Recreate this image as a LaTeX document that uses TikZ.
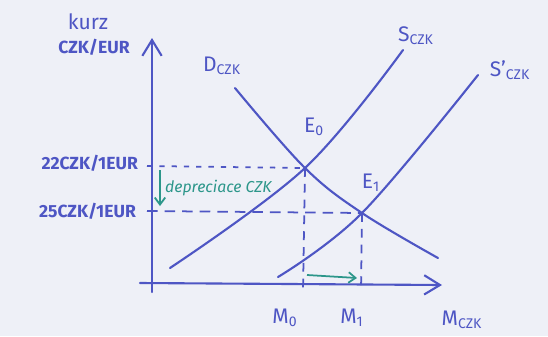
\documentclass[tikz,border=0pt]{standalone}
\usepackage{fontspec}
\setmainfont{Fira Sans}
\usetikzlibrary{arrows.meta}
\definecolor{inkblue}{RGB}{78,86,196}
\definecolor{inkteal}{RGB}{44,150,138}
\definecolor{paper}{RGB}{238,240,247}
\begin{document}
\begin{tikzpicture}[x=0.02cm, y=-0.02cm,
    ink/.style={draw=inkblue, line width=1.2pt, line cap=round},
    shift arrow/.style={draw=inkteal, line width=1pt, -{Straight Barb[length=4pt,width=6pt]}},
    guide/.style={draw=inkblue, line width=1pt},
    lbl/.style={text=inkblue, inner sep=1pt, font=\large}]
    % Paper
    \fill[paper] (0,0) rectangle (548,336);
    \useasboundingbox (0,0) rectangle (548,336);

    % Axes
    \coordinate (ybot) at (152,292);
    \coordinate (ytop) at (152,38);
    \coordinate (xleft) at (140,283);
    \coordinate (xright) at (442,285);
    \draw[ink, -{Straight Barb[length=9pt,width=11pt]}] (ybot) -- (ytop);
    \draw[ink, -{Straight Barb[length=9pt,width=11pt]}] (xleft) -- (xright);

    % Equilibria
    \coordinate (E0) at (305,168);
    \coordinate (E1) at (362,213);
    \coordinate (y0) at (147,166);
    \coordinate (y1) at (147,211);
    \coordinate (m0) at (303,292);
    \coordinate (m1) at (361,292);

    % Curves
    \coordinate (d1) at (235,88);
    \coordinate (d2) at (438,258);
    \coordinate (s1) at (170,268);
    \coordinate (s2) at (403,50);
    \coordinate (t1) at (278,277);
    \coordinate (t2) at (478,75);
    \draw[ink] plot[smooth, tension=0.6] coordinates {(d1) (E0) (E1) (d2)};
    \draw[ink] plot[smooth, tension=0.6] coordinates {(s1) (E0) (s2)};
    \draw[ink] plot[smooth, tension=0.6] coordinates {(t1) (E1) (t2)};

    % Guide lines
    \draw[guide, dash pattern=on 3pt off 4pt] (y0) -- (E0);
    \draw[guide, dash pattern=on 6pt off 4pt] (y1) -- (E1);
    \draw[guide, dash pattern=on 5pt off 4pt] (E0) -- (m0);
    \draw[guide, dash pattern=on 5pt off 4pt] (E1) -- (m1);

    % Shifts
    \coordinate (da) at (160,170);
    \coordinate (db) at (160,206);
    \coordinate (ma) at (307,275);
    \coordinate (mb) at (357,278);
    \draw[shift arrow] (da) -- (db);
    \draw[shift arrow] (ma) -- (mb);
    \node[text=inkteal, anchor=west, inner sep=1pt, font=\small\itshape] (dep) at (163,188) {depreciace CZK};

    % Labels
    \node[lbl] (kurz) at (88,22) {kurz};
    \node[lbl, font=\bfseries] (unit) at (94,47) {CZK/EUR};
    \node[lbl, font=\bfseries, anchor=east] (p0) at (140,163) {22CZK/1EUR};
    \node[lbl, font=\bfseries, anchor=east] (p1) at (138,211) {25CZK/1EUR};
    \node[lbl] (dlab) at (222,66) {D\textsubscript{CZK}};
    \node[lbl] (slab) at (416,36) {S\textsubscript{CZK}};
    \node[lbl] (tlab) at (510,70) {S'\textsubscript{CZK}};
    \node[lbl] (e0lab) at (314,127) {E\textsubscript{0}};
    \node[lbl] (e1lab) at (371,183) {E\textsubscript{1}};
    \node[lbl] (m0lab) at (285,318) {M\textsubscript{0}};
    \node[lbl] (m1lab) at (352,318) {M\textsubscript{1}};
    \node[lbl] (mlab) at (462,320) {M\textsubscript{CZK}};
\end{tikzpicture}
\end{document}
